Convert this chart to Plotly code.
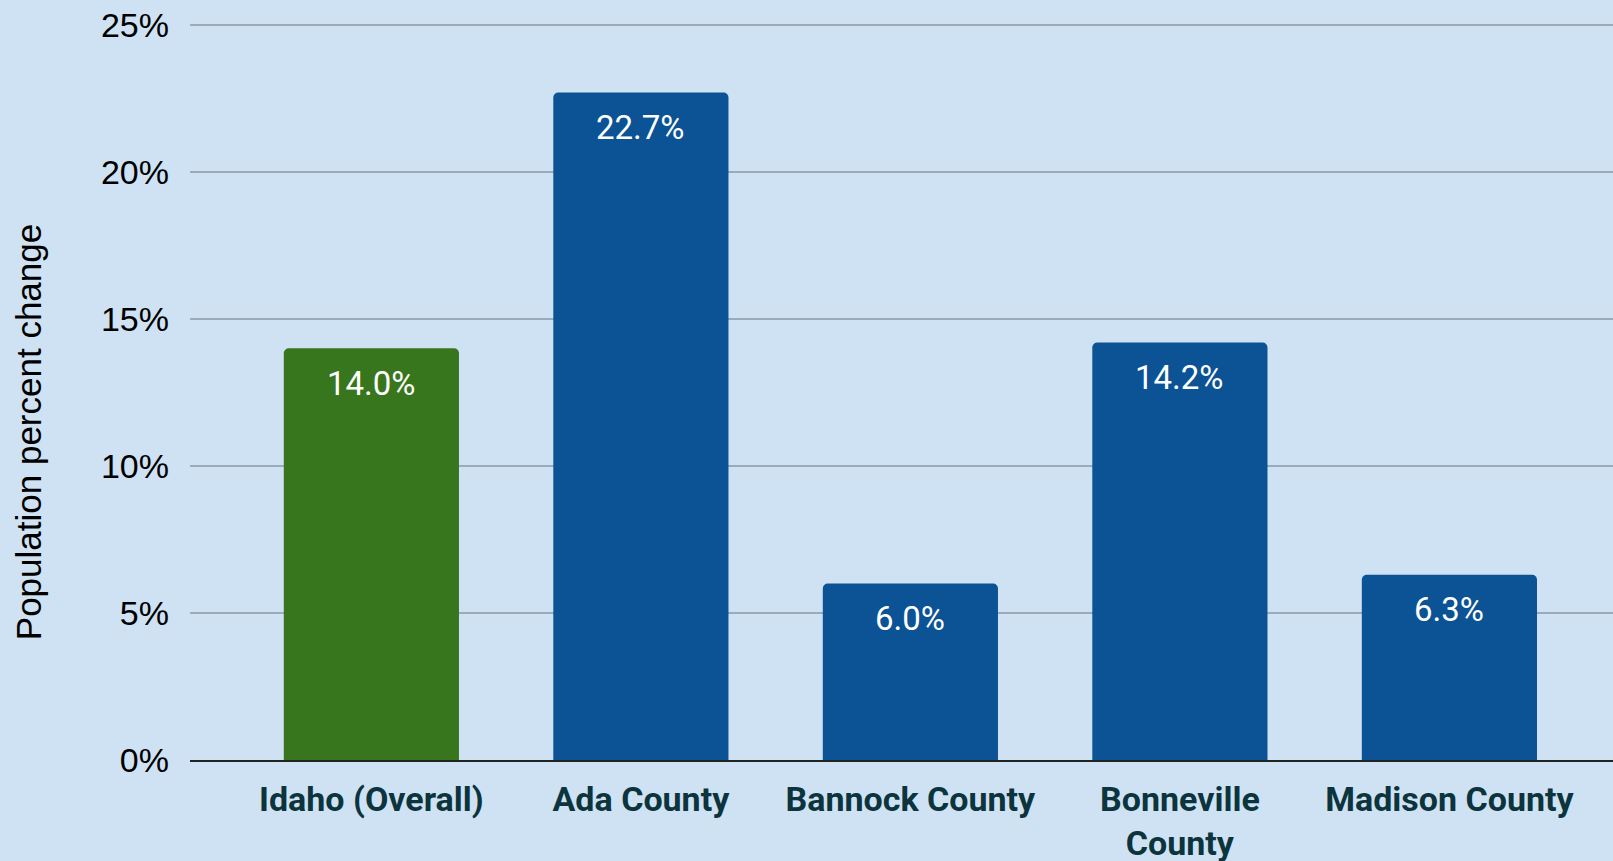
import plotly.graph_objects as go

categories = ["Idaho (Overall)", "Ada County", "Bannock County", "Bonneville<br>County", "Madison County"]
values = [14.0, 22.7, 6.0, 14.2, 6.3]
bar_colors = ["#38761d", "#0b5394", "#0b5394", "#0b5394", "#0b5394"]
labels = [f"{v:.1f}%" for v in values]
y_ticks = [0, 5, 10, 15, 20, 25]
y_tick_text = [f"{t}%" for t in y_ticks]

x_idx = list(range(len(categories)))

fig = go.Figure()
fig.add_trace(go.Bar(
    x=x_idx, y=values,
    marker=dict(color=bar_colors, cornerradius=5, line=dict(width=0)),
    width=0.65,
    hoverinfo="skip",
))

for xi, v, t in zip(x_idx, values, labels):
    fig.add_annotation(x=xi, y=v, text=t, showarrow=False, yshift=-35,
                       font=dict(family="Roboto", size=33, color="white"))

fig.add_annotation(xref="paper", yref="paper", x=0, y=0.4435, xshift=-183,
                   text="Population percent change", textangle=-90, showarrow=False,
                   font=dict(family="Liberation Sans", size=35, color="black"))

fig.update_layout(
    width=1613, height=861,
    margin=dict(l=190, r=0, t=22, b=101, autoexpand=False),
    paper_bgcolor="#cfe2f3", plot_bgcolor="#cfe2f3",
    showlegend=False,
    bargap=0.35,
)
fig.update_xaxes(
    range=[-0.673, 4.607], automargin=False,
    tickmode="array", tickvals=x_idx, ticktext=categories,
    tickfont=dict(family="Roboto", size=34, color="#0c343d", weight="bold"),
    showline=True, linecolor="#222222", linewidth=2,
    showgrid=False, zeroline=False, ticks="", ticklabelstandoff=8,
)
fig.update_yaxes(
    range=[0, 25.1], automargin=False,
    tickmode="array", tickvals=y_ticks, ticktext=y_tick_text,
    tickfont=dict(family="Liberation Sans", size=34, color="black"),
    showgrid=True, gridcolor="#9aabb9", gridwidth=2,
    zeroline=False, showline=False, ticks="", ticklabelstandoff=20,
)

fig.write_html("out.html", config={"displayModeBar": False},
               post_script="document.body.style.margin='0';document.body.style.overflow='hidden';")
